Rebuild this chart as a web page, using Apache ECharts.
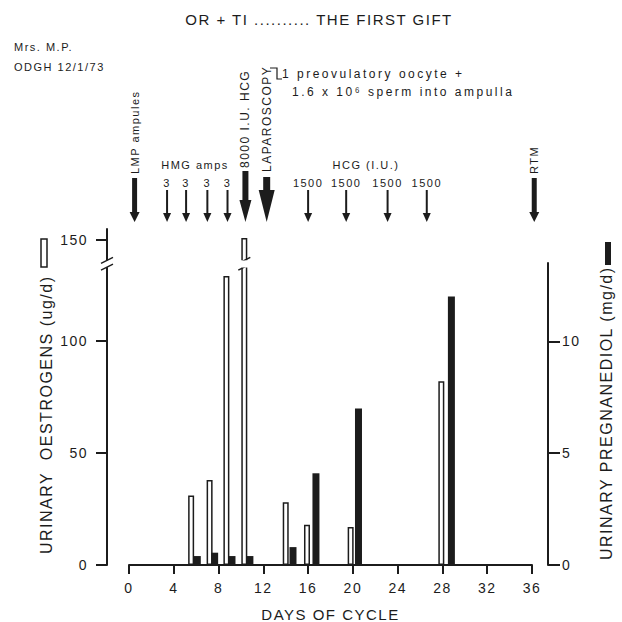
<!DOCTYPE html>
<html>
<head>
<meta charset="utf-8">
<script src="https://cdn.jsdelivr.net/npm/echarts@6.0.0/dist/echarts.min.js"></script>
<style>
    html, body { margin: 0; padding: 0; background: #fff; }
    #chart { width: 622px; height: 622px; }
    #chart text { letter-spacing: 1.5px; }
    #chart text[style*="ls25"] { letter-spacing: 2.5px; }
</style>
</head>
<body>
<div id="chart"></div>
<script>
'use strict';

// ---- data ----
var oestrogenDays   = [5.55, 7.2, 8.7, 10.3, 14.0, 15.9, 19.8, 27.9];
var oestrogenValues = [31, 38, 129, 151, 28, 18, 17, 82];          // ug/d (left axis)
var pregDays        = [6.1, 7.65, 9.2, 10.8, 14.65, 16.7, 20.5, 28.8];
var pregValues      = [0.4, 0.55, 0.4, 0.4, 0.8, 4.1, 7.0, 12.0];  // mg/d (right axis)

var leftTicks  = [0, 50, 100, 150];
var rightTicks = [0, 5, 10];

// treatment arrows along the top
var arrowDays   = [0.5, 3.4, 5.1, 7.0, 8.8, 10.4, 12.3, 16.0, 19.4, 23.1, 26.6, 36.2];
var arrowKinds  = ['bold', 'thin', 'thin', 'thin', 'thin', 'hcg', 'lap', 'thin', 'thin', 'thin', 'thin', 'bold'];
var arrowLabels = ['LMP ampules', '3', '3', '3', '3', '8000 I.U. HCG', 'LAPAROSCOPY', '1500', '1500', '1500', '1500', 'RTM'];

// ---- styles ----
var INK = '#1c1c1c';
var FAMILY = "'Liberation Sans', Arial, sans-serif";
function font(size) { return size + 'px ' + FAMILY; }
var FONT_WIDE = function (size) { return size + "px 'Liberation Sans', ls25, Arial, sans-serif"; };

var ARROW = {
    thin: {top: 190, w: 2, headH: 9,  headW: 8,  gap: 0, size: 11},
    bold: {top: 178, w: 5, headH: 10, headW: 10, gap: 4, size: 11},
    hcg:  {top: 171, w: 6, headH: 22, headW: 12, gap: 3, size: 12},
    lap:  {top: 177, w: 7, headH: 32, headW: 16, gap: 5, size: 12}
};
var TIP = 222;

function renderArrow(params, api) {
    var i = params.dataIndex,
        x = api.coord([api.value(0), 0])[0],
        k = ARROW[arrowKinds[i]],
        neck = TIP - k.headH,
        children = [
            {type: 'rect', shape: {x: x - k.w / 2, y: k.top, width: k.w, height: neck - k.top + 1}, style: {fill: INK}},
            {type: 'polygon', shape: {points: [[x - k.headW / 2, neck], [x + k.headW / 2, neck], [x, TIP]]}, style: {fill: INK}}
        ];

    if (arrowKinds[i] === 'thin') {
        children.push({
            type: 'text', x: x, y: 183,
            style: {text: arrowLabels[i], font: font(k.size), fill: INK,
                    align: 'center', verticalAlign: 'middle', textAlign: 'center', textVerticalAlign: 'middle'}
        });
    } else {
        children.push({
            type: 'text', x: x, y: k.top - k.gap, rotation: Math.PI / 2,
            style: {text: arrowLabels[i], font: font(k.size), fill: INK,
                    align: 'left', verticalAlign: 'middle', textAlign: 'left', textVerticalAlign: 'middle'}
        });
    }
    return {type: 'group', children: children};
}

function pairs(xs, ys) {
    return xs.map(function (x, i) { return [x, ys[i]]; });
}

function txt(text, x, y, size, opts) {
    opts = opts || {};
    return {
        type: 'text', x: x, y: y, rotation: opts.rotation || 0, z: 50,
        style: {text: text, font: opts.wide ? FONT_WIDE(size) : font(size), fill: INK,
                textAlign: opts.align || 'left', textVerticalAlign: 'middle',
                align: opts.align || 'left', verticalAlign: 'middle'}
    };
}

var chart = echarts.init(document.getElementById('chart'), null, {renderer: 'svg'});

var axisLineStyle = {color: INK, width: 2};

chart.setOption({
    animation: false,
    backgroundColor: '#fff',
    textStyle: {fontFamily: FAMILY, color: INK},
    grid: [
        {left: 129, right: 90, top: 229, bottom: 57, outerBoundsMode: 'none'},
        {left: 129, right: 90, top: 263, bottom: 57, outerBoundsMode: 'none'}
    ],
    xAxis: [
        {
            gridIndex: 0, type: 'value', min: 0, max: 36, interval: 4,
            axisLine: {onZero: false, lineStyle: axisLineStyle},
            axisTick: {length: 9, lineStyle: {color: INK, width: 2}},
            axisLabel: {margin: 16, fontSize: 14, color: INK, fontFamily: FAMILY},
            splitLine: {show: false},
            name: 'DAYS OF CYCLE', nameLocation: 'middle', nameGap: 42,
            nameTextStyle: {fontSize: 15, color: INK, fontFamily: FAMILY}
        },
        {gridIndex: 1, type: 'value', min: 0, max: 36, show: false}
    ],
    yAxis: [
        {
            gridIndex: 0, type: 'value', position: 'left', offset: 22,
            min: 0, max: 155,
            breaks: [{start: 133, end: 141, gap: '2%'}],
            breakArea: {show: true, zigzagAmplitude: 0, itemStyle: {color: '#fff', borderColor: '#fff', borderWidth: 0, opacity: 1}},
            axisLine: {show: true, onZero: false, lineStyle: axisLineStyle},
            axisTick: {length: 11, customValues: leftTicks, lineStyle: {color: INK, width: 2}},
            axisLabel: {margin: 19, fontSize: 14, color: INK, fontFamily: FAMILY, customValues: leftTicks},
            splitLine: {show: false}
        },
        {
            gridIndex: 1, type: 'value', position: 'right', offset: 16,
            min: 0, max: 13.5,
            axisLine: {show: true, onZero: false, lineStyle: axisLineStyle},
            axisTick: {length: 12, customValues: rightTicks, lineStyle: {color: INK, width: 2}},
            axisLabel: {margin: 14, fontSize: 14, color: INK, fontFamily: FAMILY, customValues: rightTicks},
            splitLine: {show: false}
        }
    ],
    series: [
        {
            name: 'oestrogens', type: 'bar', xAxisIndex: 0, yAxisIndex: 0,
            barWidth: 6,
            itemStyle: {color: '#fff', borderColor: INK, borderWidth: 1.5},
            data: pairs(oestrogenDays, oestrogenValues)
        },
        {
            name: 'pregnanediol', type: 'bar', xAxisIndex: 1, yAxisIndex: 1,
            barWidth: 7,
            itemStyle: {color: INK},
            data: pairs(pregDays, pregValues)
        },
        {
            name: 'arrows', type: 'custom', xAxisIndex: 0, yAxisIndex: 0,
            clip: false, silent: true,
            renderItem: renderArrow,
            data: arrowDays.map(function (d, i) { return [d, i]; })
        }
    ]
});

// texts, legend boxes and the axis-break slashes
var yLo = chart.convertToPixel({yAxisIndex: 0}, 133),
    yHi = chart.convertToPixel({yAxisIndex: 0}, 141),
    axisX = chart.convertToPixel({xAxisIndex: 0}, 0) - 22,
    barX = chart.convertToPixel({xAxisIndex: 0}, oestrogenDays[3]);

var elements = [
    txt('OR + TI .......... THE FIRST GIFT', 319, 19, 15, {align: 'center'}),
    txt('Mrs. M.P.', 14, 47, 11),
    txt('ODGH 12/1/73', 14, 67, 11),
    txt('1 preovulatory oocyte +', 282, 74, 12, {wide: true}),
    txt('1.6 x 10\u2076 sperm into ampulla', 292, 92, 12, {wide: true}),
    {type: 'polyline', z: 50, shape: {points: [[270, 68], [277, 68], [277, 79], [282, 79]]}, style: {stroke: INK, lineWidth: 1.2, fill: null}},
    txt('HMG amps', 195, 165, 11, {align: 'center'}),
    txt('HCG (I.U.)', 366, 165, 11, {align: 'center'}),
    txt('URINARY  OESTROGENS (ug/d)', 46, 554, 16, {rotation: Math.PI / 2}),
    {type: 'rect', z: 50, shape: {x: 41, y: 239, width: 6, height: 28}, style: {fill: '#fff', stroke: INK, lineWidth: 1.5}},
    txt('URINARY PREGNANEDIOL (mg/d)', 606, 560, 16, {rotation: Math.PI / 2}),
    {type: 'rect', z: 50, shape: {x: 605, y: 242, width: 6, height: 23}, style: {fill: INK}}
];

[axisX, barX].forEach(function (x) {
    elements.push({type: 'rect', z: 60, shape: {x: x - 5, y: yHi, width: 10, height: yLo - yHi}, style: {fill: '#fff'}});
    elements.push({type: 'line', z: 61, shape: {x1: x - 6, y1: yLo + 3, x2: x + 6, y2: yLo - 3}, style: {stroke: INK, lineWidth: 1.5}});
    elements.push({type: 'line', z: 61, shape: {x1: x - 6, y1: yHi + 3, x2: x + 6, y2: yHi - 3}, style: {stroke: INK, lineWidth: 1.5}});
});

chart.setOption({graphic: {elements: elements}});
</script>
</body>
</html>
